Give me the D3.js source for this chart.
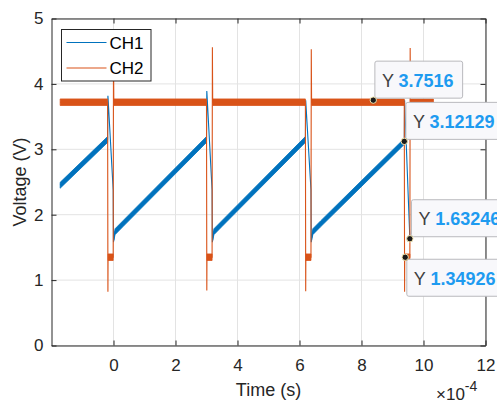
<!DOCTYPE html>
<html>
<head>
<meta charset="utf-8">
<script src="https://cdn.jsdelivr.net/npm/d3@7/dist/d3.min.js"></script>
<style>
body { margin: 0; background: #fff; }
text { font-family: "Liberation Sans", Arial, sans-serif; }
</style>
</head>
<body>
<svg id="chart"></svg>
<script>
var width = 497,
	height = 404;

// time values are in units of 1e-4 s (axis shows the x10^-4 exponent)
var xTicks = [0, 2, 4, 6, 8, 10, 12];
var yTicks = [0, 1, 2, 3, 4, 5];
var seriesNames = ["CH1", "CH2"];

// CH1: time, voltage, half width of the noise band (V)
var ch1Time = [-1.72, -0.19, -0.18, -0.01, 0.00, 0.01, 0.05, 0.30, 3.00,
	3.01, 3.18, 3.19, 3.20, 3.24, 3.49, 6.19,
	6.20, 6.37, 6.38, 6.39, 6.43, 6.68, 9.38,
	9.39, 9.56];
var ch1Volt = [2.45, 3.15, 3.82, 2.38, 1.58, 1.64, 1.74, 1.86, 3.15,
	3.89, 2.38, 1.58, 1.64, 1.74, 1.86, 3.15,
	3.75, 2.38, 1.58, 1.64, 1.74, 1.86, 3.12,
	3.75, 1.63];
var ch1Noise = [0.045, 0.045, 0, 0, 0, 0.035, 0.045, 0.045, 0.045,
	0, 0, 0, 0.035, 0.045, 0.045, 0.045,
	0, 0, 0, 0.035, 0.045, 0.045, 0.045,
	0, 0];

// CH2
var ch2Time = [-1.72, -0.19, -0.18, -0.175, -0.01, 0.00, 0.01,
	3.00, 3.01, 3.015, 3.18, 3.19, 3.20,
	6.19, 6.20, 6.205, 6.37, 6.38, 6.39,
	9.38, 9.39, 9.395, 9.56, 9.57, 9.58, 10.32];
var ch2Volt = [3.72, 3.72, 0.82, 1.35, 1.35, 4.55, 3.72,
	3.72, 0.84, 1.35, 1.35, 4.56, 3.72,
	3.72, 0.83, 1.35, 1.35, 4.53, 3.72,
	3.72, 0.82, 1.35, 1.35, 4.55, 3.72, 3.72];
var ch2Noise = [0.05, 0.05, 0, 0.05, 0.05, 0, 0.05,
	0.05, 0, 0.05, 0.05, 0, 0.05,
	0.05, 0, 0.05, 0.05, 0, 0.05,
	0.05, 0, 0.05, 0.05, 0, 0.05, 0.05];

// data tips
var tipTime = [8.38, 9.38, 9.56, 9.41];
var tipValue = [3.7516, 3.12129, 1.63246, 1.34926];
var tipBelow = [false, false, false, true];

var colors = ["#0072BD", "#D95319"];

var svg = d3.select("#chart")
	.attr("width", width)
	.attr("height", height);

svg.append("rect").attr("width", width).attr("height", height).attr("fill", "#fff");

var x = d3.scaleLinear().domain([-2, 12]).range([51.5, 485.5]),
	y = d3.scaleLinear().domain([0, 5]).range([345.5, 18.5]);

var x0 = x.range()[0], x1 = x.range()[1],
	y0 = y.range()[0], y1 = y.range()[1];

// grid
var grid = svg.append("g").attr("class", "grid");
grid.selectAll("line.gx").data(xTicks).enter().append("line")
	.attr("x1", function (d) { return x(d); }).attr("x2", function (d) { return x(d); })
	.attr("y1", y1).attr("y2", y0)
	.attr("stroke", "#e3e3e3").attr("stroke-width", 1);
grid.selectAll("line.gy").data(yTicks).enter().append("line")
	.attr("y1", function (d) { return y(d); }).attr("y2", function (d) { return y(d); })
	.attr("x1", x0).attr("x2", x1)
	.attr("stroke", "#e3e3e3").attr("stroke-width", 1);

function toPoints(ts, vs, ns) {
	return ts.map(function (t, i) { return { t: t, v: vs[i], n: ns[i] }; });
}

var series = [toPoints(ch1Time, ch1Volt, ch1Noise), toPoints(ch2Time, ch2Volt, ch2Noise)];

var line = d3.line()
	.x(function (d) { return x(d.t); })
	.y(function (d) { return y(d.v); });

var band = d3.area()
	.defined(function (d) { return d.n > 0; })
	.x(function (d) { return x(d.t); })
	.y0(function (d) { return y(d.v - d.n); })
	.y1(function (d) { return y(d.v + d.n); });

var plot = svg.append("g").attr("class", "plot");
series.forEach(function (pts, i) {
	plot.append("path")
		.attr("d", band(pts))
		.attr("fill", colors[i])
		.attr("stroke", colors[i])
		.attr("stroke-width", 0.8);
	plot.append("path")
		.attr("d", line(pts))
		.attr("fill", "none")
		.attr("stroke", colors[i])
		.attr("stroke-width", 1.1);
});

// axes
var axisColor = "#262626";
var fmt = d3.format("d");
var xAxis = d3.axisBottom(x).tickValues(xTicks).tickFormat(fmt).tickSize(-5).tickSizeOuter(0).tickPadding(13),
	yAxis = d3.axisLeft(y).tickValues(yTicks).tickFormat(fmt).tickSize(-5).tickSizeOuter(0).tickPadding(8),
	xAxisTop = d3.axisTop(x).tickValues(xTicks).tickSize(-5).tickSizeOuter(0).tickFormat(""),
	yAxisRight = d3.axisRight(y).tickValues(yTicks).tickSize(-5).tickSizeOuter(0).tickFormat("");

var gX = svg.append("g").attr("transform", "translate(0," + y0 + ")").call(xAxis),
	gY = svg.append("g").attr("transform", "translate(" + x0 + ",0)").call(yAxis),
	gXT = svg.append("g").attr("transform", "translate(0," + y1 + ")").call(xAxisTop),
	gYR = svg.append("g").attr("transform", "translate(" + x1 + ",0)").call(yAxisRight);

[gX, gY, gXT, gYR].forEach(function (g) {
	g.selectAll("path.domain").attr("stroke", axisColor);
	g.selectAll(".tick line").attr("stroke", axisColor);
	g.selectAll(".tick text")
		.attr("fill", axisColor)
		.style("font-size", "17px")
		.style("font-family", "'Liberation Sans', Arial, sans-serif");
});

// axis labels
svg.append("text")
	.attr("x", (x0 + x1) / 2).attr("y", 396)
	.attr("text-anchor", "middle")
	.attr("fill", axisColor)
	.style("font-size", "18px")
	.text("Time (s)");

svg.append("text")
	.attr("transform", "translate(26," + (y0 + y1) / 2 + ") rotate(-90)")
	.attr("text-anchor", "middle")
	.attr("fill", axisColor)
	.style("font-size", "18px")
	.text("Voltage (V)");

var expo = svg.append("text")
	.attr("x", 436).attr("y", 400)
	.attr("fill", axisColor)
	.style("font-size", "17px");
expo.append("tspan").text("\u00d710");
expo.append("tspan").attr("dy", -9).style("font-size", "14px").text("-4");

// legend
var legend = svg.append("g").attr("class", "legend");
legend.append("rect")
	.attr("x", 61.5).attr("y", 29.5)
	.attr("width", 89.5).attr("height", 51.5)
	.attr("fill", "#fff")
	.attr("stroke", axisColor)
	.attr("stroke-width", 1);
seriesNames.forEach(function (name, i) {
	var ly = 42.5 + i * 25.5;
	legend.append("line")
		.attr("x1", 66.5).attr("x2", 106.5)
		.attr("y1", ly).attr("y2", ly)
		.attr("stroke", colors[i]).attr("stroke-width", 1.1);
	legend.append("text")
		.attr("x", 109.5).attr("y", ly)
		.attr("dy", "0.36em")
		.attr("fill", "#000")
		.style("font-size", "17px")
		.text(name);
});

// data tips
var tips = svg.append("g").attr("class", "tips");
tipTime.forEach(function (t, i) {
	var mx = x(t), my = y(tipValue[i]);
	var g = tips.append("g");
	var txt = g.append("text").style("font-size", "18px");
	txt.append("tspan").attr("fill", "#404040").text("Y ");
	txt.append("tspan").attr("fill", "#1e9bf0").attr("font-weight", "bold").text(tipValue[i]);
	var w = txt.node().getComputedTextLength() + 16,
		h = 37;
	var bx = mx + 1.6,
		by = tipBelow[i] ? my + 2 : my - 2 - h;
	g.insert("rect", "text")
		.attr("x", bx).attr("y", by)
		.attr("width", w).attr("height", h)
		.attr("rx", 2)
		.attr("fill", "#f8f8fb")
		.attr("stroke", "#b9b9bd")
		.attr("stroke-width", 1);
	txt.attr("x", bx + 7).attr("y", by + 25.5);
	tips.append("circle")
		.attr("cx", mx).attr("cy", my).attr("r", 3.2)
		.attr("fill", "#1a1a1a")
		.attr("stroke", "#f3e6b0")
		.attr("stroke-width", 1);
});
</script>
</body>
</html>
